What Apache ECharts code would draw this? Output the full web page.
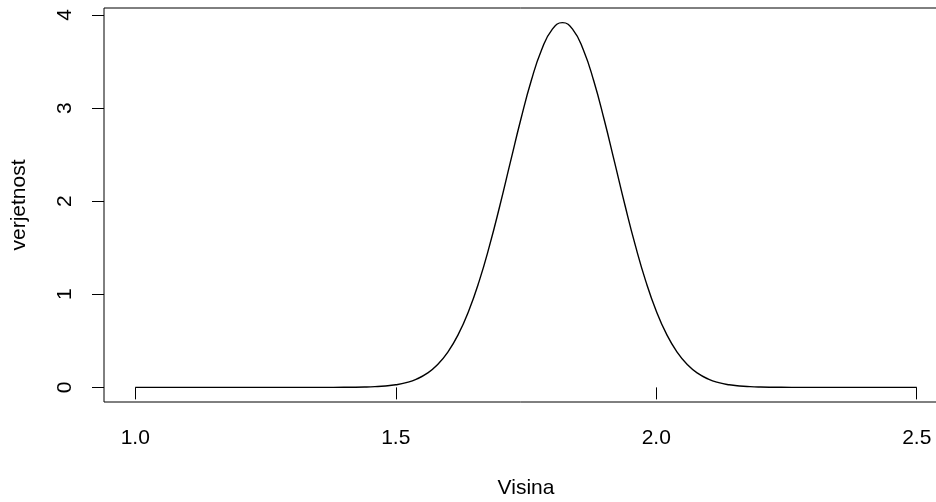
<!DOCTYPE html>
<html>
<head>
<meta charset="utf-8">
<script src="https://cdn.jsdelivr.net/npm/echarts@6/dist/echarts.min.js"></script>
<style>
html,body{margin:0;padding:0;background:#fff;}
#chart{width:936px;height:502px;}
</style>
</head>
<body>
<div id="chart"></div>
<script>
// Values
var xValues = [1.00, 1.10, 1.20, 1.30, 1.34, 1.38, 1.42, 1.44, 1.46, 1.48, 1.50, 1.52, 1.54, 1.56, 1.58, 1.60, 1.62, 1.64, 1.66, 1.68, 1.70, 1.72, 1.74, 1.76, 1.78, 1.80, 1.82,
               1.84, 1.86, 1.88, 1.90, 1.92, 1.94, 1.96, 1.98, 2.00, 2.02, 2.04, 2.06, 2.08, 2.10, 2.12, 2.14, 2.16, 2.18, 2.20, 2.22, 2.26, 2.30, 2.34, 2.40, 2.50];
var densityValues = [0, 0, 0, 0, 0, 0.0003, 0.002, 0.004, 0.008, 0.015, 0.028, 0.051, 0.089, 0.150, 0.243, 0.379, 0.569, 0.821, 1.139, 1.522, 1.956, 2.419, 2.877, 3.293, 3.627, 3.843, 3.918,
                     3.843, 3.627, 3.293, 2.877, 2.419, 1.956, 1.522, 1.139, 0.821, 0.569, 0.379, 0.243, 0.150, 0.089, 0.051, 0.028, 0.015, 0.008, 0.004, 0.002, 0.0003, 0, 0, 0, 0];
var xTicks = [1.0, 1.5, 2.0, 2.5];
var yTicks = [0, 1, 2, 3, 4];
var xTitle = 'Visina';
var yTitle = 'verjetnost';

var data = xValues.map(function (x, i) { return [x, densityValues[i]]; });
var font = '"Liberation Sans", Arial, Helvetica, sans-serif';

var chart = echarts.init(document.getElementById('chart'), null, {renderer: 'canvas'});
chart.setOption({
  animation: false,
  backgroundColor: '#ffffff',
  grid: {
    left: 104, top: 8, width: 844, height: 394,
    show: true, borderColor: '#000', borderWidth: 1, backgroundColor: 'transparent',
    containLabel: false, outerBoundsMode: 'none'
  },
  xAxis: {
    type: 'value', min: 0.94, max: 2.56,
    name: xTitle, nameLocation: 'middle', nameGap: 76,
    nameTextStyle: {color: '#000', fontSize: 21, fontFamily: font},
    axisLine: {show: false},
    splitLine: {show: false},
    axisTick: {show: true, inside: false, length: 12, customValues: xTicks, lineStyle: {color: '#000', width: 1}},
    axisLabel: {show: true, margin: 26, customValues: xTicks, color: '#000', fontSize: 21, fontFamily: font,
      formatter: function (v) { return Number(v).toFixed(1); }}
  },
  yAxis: {
    type: 'value', min: -0.157, max: 4.075,
    name: yTitle, nameLocation: 'middle', nameGap: 74, nameRotate: 90,
    nameTextStyle: {color: '#000', fontSize: 21, fontFamily: font},
    axisLine: {show: false},
    splitLine: {show: false},
    axisTick: {show: true, inside: false, length: 12, customValues: yTicks, lineStyle: {color: '#000', width: 1}},
    axisLabel: {show: true, margin: 28, rotate: 90, customValues: yTicks, color: '#000', fontSize: 21, fontFamily: font,
      formatter: function (v) { return String(Math.round(v)); }}
  },
  series: [{
    type: 'line', data: data, showSymbol: false, symbol: 'none',
    smooth: 0.5,
    lineStyle: {color: '#000', width: 1.4},
    silent: true
  }]
});
</script>
</body>
</html>
